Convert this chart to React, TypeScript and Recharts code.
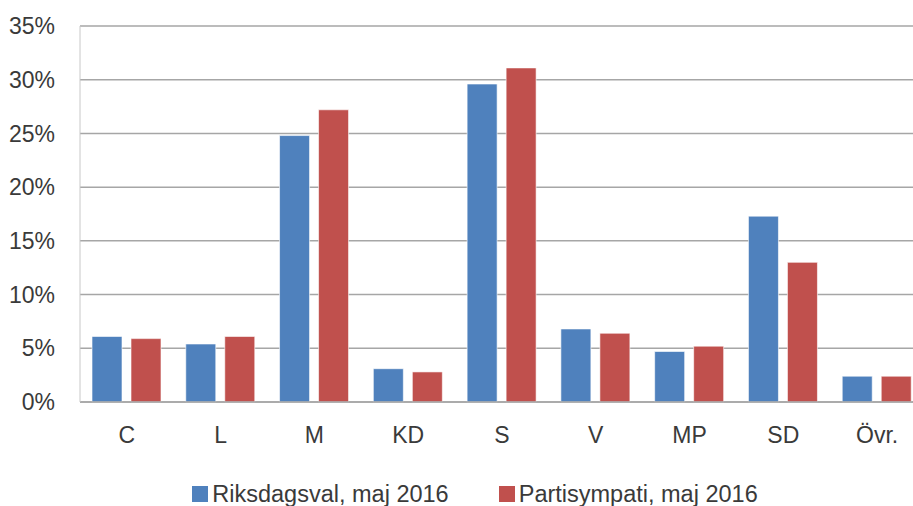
import React from "react";
import { BarChart, Bar, XAxis, YAxis, CartesianGrid, Legend } from "recharts";

// Party sympathy survey, May 2016 (percent)
const parties = ["C", "L", "M", "KD", "S", "V", "MP", "SD", "Övr."];
const riksdagsval = [6.1, 5.4, 24.8, 3.1, 29.6, 6.8, 4.7, 17.3, 2.4];
const partisympati = [5.9, 6.1, 27.2, 2.8, 31.1, 6.4, 5.2, 13.0, 2.4];
const yTicks = [0, 5, 10, 15, 20, 25, 30, 35];

const seriesNames = {
  riksdagsval: "Riksdagsval, maj 2016",
  partisympati: "Partisympati, maj 2016",
};
const colors = { riksdagsval: "#4F81BD", partisympati: "#C0504D" };

const data = parties.map((p, i) => ({
  party: p,
  riksdagsval: riksdagsval[i],
  partisympati: partisympati[i],
}));

const FONT = "'Liberation Sans', Arial, sans-serif";
const TEXT = "#3a3a3a";

function LegendContent() {
  const items = [
    { key: "riksdagsval", label: seriesNames.riksdagsval, color: colors.riksdagsval },
    { key: "partisympati", label: seriesNames.partisympati, color: colors.partisympati },
  ];
  return (
    <div
      style={{
        display: "flex",
        justifyContent: "center",
        gap: 50,
        paddingLeft: 26,
        height: 24,
        lineHeight: "24px",
        fontFamily: FONT,
        fontSize: 23.5,
        color: TEXT,
      }}
    >
      {items.map((it) => (
        <div key={it.key} style={{ display: "flex", alignItems: "center" }}>
          <span style={{ width: 16, height: 16, background: it.color, marginRight: 4, display: "inline-block" }} />
          <span>{it.label}</span>
        </div>
      ))}
    </div>
  );
}

export default function App() {
  return (
    <div style={{ position: "absolute", left: 0, top: 0, width: 913, height: 506, overflow: "hidden", background: "#fff" }}>
      <BarChart
        width={958}
        height={506}
        data={data}
        margin={{ top: 26, right: 34, left: 0, bottom: 0 }}
        barCategoryGap={12}
        barGap={9}
        style={{ fontFamily: FONT }}
      >
        <CartesianGrid vertical={false} stroke="#A6A6A6" strokeWidth={1.5} />
        <XAxis
          dataKey="party"
          height={80}
          interval={0}
          axisLine={{ stroke: "#A6A6A6", strokeWidth: 1.5 }}
          tickLine={false}
          tickMargin={19}
          tick={{ fill: TEXT, fontSize: 23 }}
        />
        <YAxis
          width={80}
          domain={[0, 35]}
          ticks={yTicks}
          interval={0}
          tickFormatter={(v) => `${v}%`}
          axisLine={{ stroke: "#C8C8C8", strokeWidth: 1 }}
          tickLine={false}
          tickMargin={19}
          tick={{ fill: TEXT, fontSize: 23 }}
        />
        <Legend verticalAlign="bottom" content={<LegendContent />} />
        <Bar
          dataKey="riksdagsval"
          name={seriesNames.riksdagsval}
          fill={colors.riksdagsval}
          stroke="rgba(255,255,255,0.6)"
          isAnimationActive={false}
        />
        <Bar
          dataKey="partisympati"
          name={seriesNames.partisympati}
          fill={colors.partisympati}
          stroke="rgba(255,255,255,0.6)"
          isAnimationActive={false}
        />
      </BarChart>
    </div>
  );
}
